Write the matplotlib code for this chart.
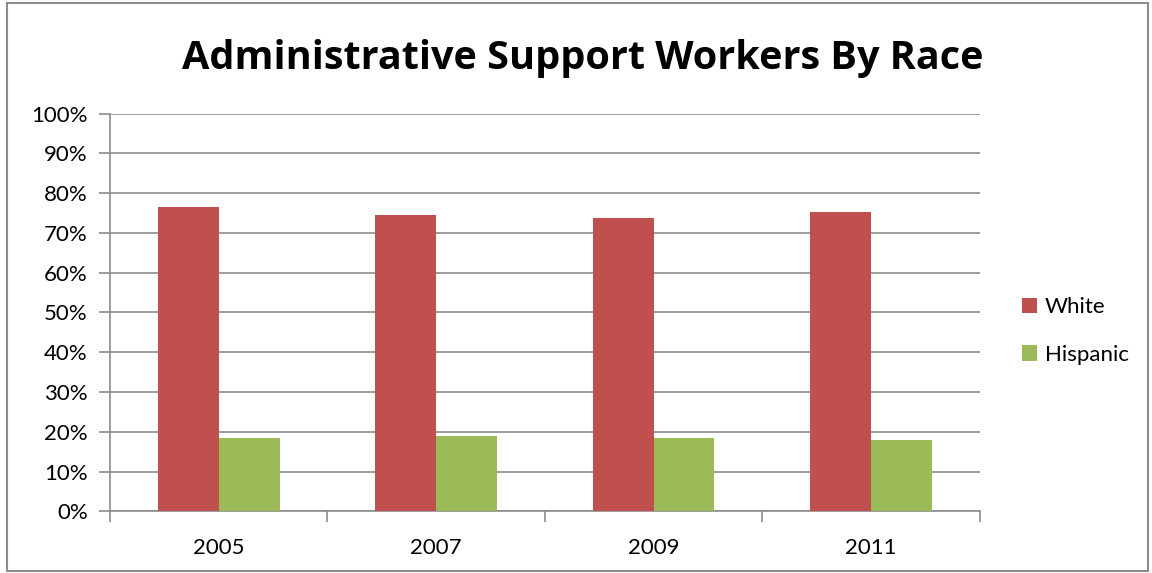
import matplotlib
matplotlib.use("Agg")
import matplotlib.pyplot as plt
import numpy as np
from matplotlib.patches import Rectangle
from matplotlib.ticker import FixedLocator, PercentFormatter

years = ["2005", "2007", "2009", "2011"]
white = [76.4, 74.4, 73.7, 75.3]
hispanic = [18.4, 19.0, 18.4, 18.0]

RED = "#c0504d"
GREEN = "#9bbb59"
GRID = "#8c8c8c"

plt.rcParams["font.family"] = ["Lato", "DejaVu Sans"]

fig = plt.figure(figsize=(11.52, 5.73), dpi=100)
ax = fig.add_axes([0.0955, 0.1077, 0.755, 0.6942])

x = np.arange(len(years))
w = 0.28
ax.bar(x - w / 2, white, w, color=RED, label="White", zorder=3)
ax.bar(x + w / 2, hispanic, w, color=GREEN, label="Hispanic", zorder=3)

ax.set_xlim(-0.5, len(years) - 0.5)
ax.set_ylim(0, 100)
ax.set_yticks(np.arange(0, 101, 10))
ax.yaxis.set_major_formatter(PercentFormatter(decimals=0))
ax.set_xticks(x)
ax.set_xticklabels(years)
ax.xaxis.set_minor_locator(FixedLocator(np.arange(-0.5, len(years), 1)))

ax.grid(axis="y", color=GRID, lw=1.2, zorder=0)
for s in ("top", "right"):
    ax.spines[s].set_visible(False)
for s in ("left", "bottom"):
    ax.spines[s].set_color(GRID)
    ax.spines[s].set_linewidth(1.2)

ax.tick_params(axis="y", length=8, width=1.2, color=GRID, labelsize=16, pad=8)
ax.tick_params(axis="x", which="major", length=0, labelsize=16, pad=19)
ax.tick_params(axis="x", which="minor", length=8, width=1.2, color=GRID)

fig.text(0.506, 0.898, "Administrative Support Workers By Race",
         ha="center", va="center", fontsize=28.5, fontweight="bold",
         family=["Open Sans", "DejaVu Sans"])

ax.legend(loc="center left", bbox_to_anchor=(1.025, 0.453), frameon=False,
          fontsize=16, handlelength=0.7, handleheight=0.7,
          labelspacing=1.25, handletextpad=0.35)

# outer chart frame
fig.patches.append(Rectangle((0.0065, 0.004), 0.99, 0.99, transform=fig.transFigure,
                             fill=False, edgecolor="#8c8c8c", lw=1.5))

fig.savefig("out.png", dpi=100)
